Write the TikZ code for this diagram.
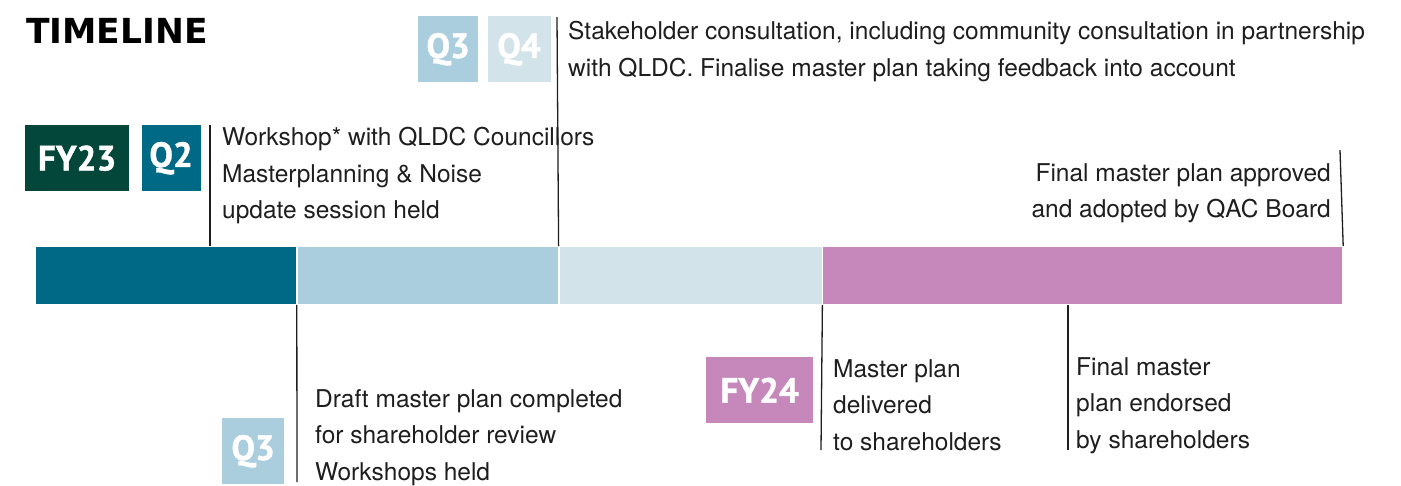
\documentclass[tikz,border=0pt]{standalone}
\usepackage{fontspec}
\setmainfont{TeX Gyre Heros}
\newfontfamily\tagfont{PT Sans}[BoldFeatures={FakeBold=1.2}]
\newfontfamily\headfont{DejaVu Sans}
\usetikzlibrary{positioning}

\definecolor{fygreen}{HTML}{02473A}
\definecolor{qteal}{HTML}{006985}
\definecolor{qblue}{HTML}{AACEDD}
\definecolor{qpale}{HTML}{D3E3EA}
\definecolor{fypink}{HTML}{C688BB}
\definecolor{ink}{HTML}{1E1E1E}

\begin{document}
\begin{tikzpicture}[x=1pt,y=-1pt,
    tag/.style={fill=#1,text=white,inner sep=0pt,minimum height=66pt,
      font=\tagfont\bfseries\fontsize{35}{35}\selectfont},
    seg/.style={fill=#1,draw=white,line width=0.8pt,inner sep=0pt,
      minimum height=58pt,anchor=north west},
    note/.style={inner sep=0pt,text=ink,font=\fontsize{24.5}{36.5}\selectfont},
    tick/.style={draw=ink,line width=1.3pt}]
  \useasboundingbox (0,0) rectangle (1401,485);

  \node[anchor=north west,inner sep=0pt,font=\headfont\bfseries\fontsize{34.5}{34.5}\selectfont]
    (title) at (26,18) {TIMELINE};

  % the bar
  \node[seg=qteal,minimum width=261pt] (s1) at (35,246) {};
  \node[seg=qblue,minimum width=261pt,right=0pt of s1] (s2) {};
  \node[seg=qpale,minimum width=263pt,right=0pt of s2] (s3) {};
  \node[seg=fypink,minimum width=520pt,right=0pt of s3] (s4) {};

  % quarter and year tags
  \node[tag=fygreen,minimum width=104pt,anchor=north west] (fy23) at (25,125) {FY23};
  \node[tag=qteal,minimum width=59pt,right=12pt of fy23] (q2) {Q2};
  \node[tag=qblue,minimum width=60pt,anchor=north west] (q3top) at (418,16) {Q3};
  \node[tag=qpale,minimum width=63pt,right=9pt of q3top] (q4) {Q4};
  \node[tag=qblue,minimum width=62pt,anchor=north west] (q3low) at (222,418) {Q3};
  \node[tag=fypink,minimum width=107pt,anchor=north west] (fy24) at (706,357) {FY24};

  % ticks
  \coordinate (workshop top) at (210,125);
  \coordinate (stake top) at (557,17);
  \coordinate (approved top) at (1340,150);
  \coordinate (draft end) at (297,482);
  \coordinate (delivered end) at (821,450);
  \coordinate (endorsed end) at (1068,450);
  \draw[tick] (workshop top) -- (workshop top |- s1.north);
  \draw[tick] (stake top) -- (s2.north east);
  \draw[tick] (approved top) -- (s4.north east);
  \draw[tick] (s2.south west) -- (draft end);
  \draw[tick] (s4.south west) -- (delivered end);
  \draw[tick] (endorsed end |- s4.south) -- (endorsed end);

  % notes
  \node[note,anchor=north west,align=left] (workshop) at (222,127)
    {Workshop* with QLDC Councillors\\Masterplanning \& Noise\\update session held};
  \node[note,anchor=north west,align=left] (stake) at (568,21)
    {Stakeholder consultation, including community consultation in partnership\\with QLDC. Finalise master plan taking feedback into account};
  \node[note,anchor=north east,align=right] (approved) at (1331,163)
    {Final master plan approved\\and adopted by QAC Board};
  \node[note,anchor=north west,align=left] (draft) at (315,389)
    {Draft master plan completed\\for shareholder review\\Workshops held};
  \node[note,anchor=north west,align=left] (delivered) at (833,359)
    {Master plan\\delivered\\to shareholders};
  \node[note,anchor=north west,align=left] (endorsed) at (1076,357)
    {Final master\\plan endorsed\\by shareholders};
\end{tikzpicture}
\end{document}
